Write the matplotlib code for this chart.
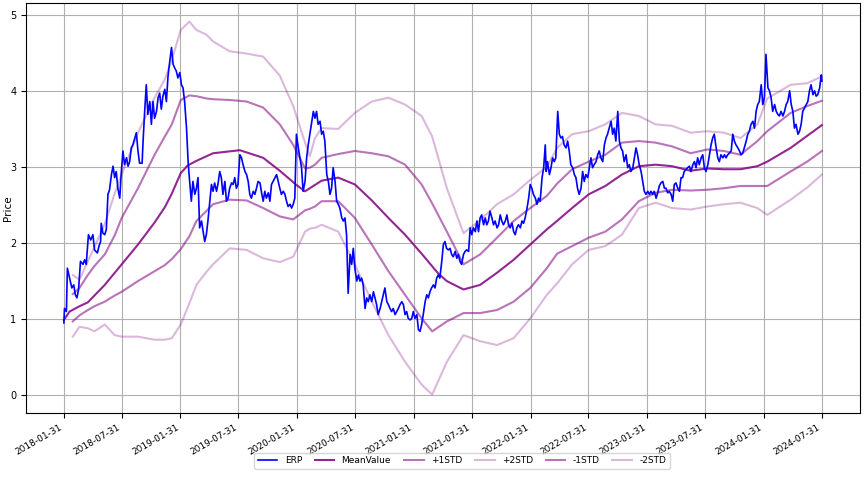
import numpy as np
import pandas as pd
import matplotlib
matplotlib.use("Agg")
import matplotlib.pyplot as plt

START = pd.Timestamp("2018-01-31")

# ---- ERP series (days since 2018-01-31, value) ----
erp_days = [0, 2, 8, 11, 18, 25, 31, 36, 41, 46, 52, 60, 65, 70, 77, 84, 91, 96, 105, 110,
            115, 117, 122, 128, 133, 138, 143, 149, 154, 159, 164, 169, 175, 180, 185, 190, 196, 201, 206, 211,
            216, 222, 227, 232, 237, 245, 248, 253, 258, 263, 269, 274, 279, 284, 290, 295, 300, 305, 310, 316,
            321, 326, 331, 337, 342, 347, 352, 357, 363, 368, 373, 378, 384, 389, 392, 399, 404, 410, 415, 420,
            425, 431, 436, 441, 446, 451, 457, 462, 467, 472, 478, 483, 488, 493, 498, 504, 509, 514, 519, 525,
            530, 535, 540, 545, 551, 556, 561, 567, 572, 577, 582, 587, 593, 598, 603, 608, 614, 619, 624, 629,
            634, 640, 645, 650, 655, 661, 666, 671, 676, 681, 687, 692, 697, 702, 708, 713, 718, 723, 728, 734,
            739, 744, 749, 755, 760, 765, 770, 776, 781, 786, 791, 796, 802, 807, 812, 817, 823, 828, 833, 838,
            843, 849, 854, 859, 864, 870, 875, 880, 885, 890, 896, 901, 906, 911, 917, 922, 927, 932, 937, 943,
            948, 953, 958, 964, 969, 974, 979, 984, 990, 995, 1000, 1005, 1011, 1016, 1021, 1026, 1031, 1037, 1042, 1047,
            1052, 1058, 1063, 1068, 1073, 1078, 1084, 1089, 1094, 1099, 1105, 1110, 1115, 1120, 1125, 1131, 1136, 1141, 1146, 1151,
            1157, 1162, 1167, 1172, 1177, 1183, 1188, 1193, 1198, 1204, 1209, 1214, 1219, 1225, 1230, 1235, 1240, 1245, 1251, 1256,
            1261, 1267, 1272, 1277, 1282, 1288, 1293, 1298, 1303, 1308, 1314, 1319, 1324, 1329, 1334, 1340, 1345, 1350, 1356, 1361,
            1366, 1371, 1376, 1382, 1387, 1392, 1397, 1403, 1408, 1413, 1418, 1423, 1429, 1434, 1439, 1444, 1450, 1455, 1460, 1465,
            1470, 1476, 1481, 1486, 1491, 1497, 1502, 1507, 1510, 1514, 1520, 1525, 1530, 1535, 1540, 1546, 1551, 1556, 1561, 1566,
            1572, 1577, 1582, 1587, 1593, 1598, 1603, 1608, 1613, 1619, 1624, 1629, 1634, 1640, 1645, 1650, 1655, 1660, 1666, 1671,
            1676, 1681, 1687, 1692, 1697, 1702, 1707, 1713, 1718, 1723, 1728, 1734, 1739, 1744, 1749, 1754, 1760, 1765, 1770, 1775,
            1781, 1786, 1791, 1796, 1801, 1807, 1812, 1817, 1822, 1828, 1833, 1838, 1843, 1848, 1854, 1859, 1864, 1869, 1875, 1880,
            1885, 1890, 1895, 1901, 1906, 1911, 1916, 1922, 1927, 1932, 1937, 1942, 1948, 1953, 1958, 1963, 1969, 1974, 1979, 1984,
            1989, 1995, 2000, 2005, 2010, 2016, 2021, 2026, 2031, 2036, 2042, 2047, 2052, 2057, 2063, 2068, 2073, 2078, 2083, 2089,
            2094, 2099, 2104, 2110, 2115, 2120, 2125, 2130, 2136, 2141, 2146, 2151, 2157, 2162, 2167, 2172, 2177, 2183, 2188, 2193,
            2198, 2204, 2209, 2214, 2219, 2225, 2230, 2235, 2240, 2245, 2251, 2256, 2261, 2266, 2272, 2277, 2282, 2287, 2292, 2298,
            2303, 2308, 2313, 2319, 2324, 2329, 2334, 2339, 2345, 2350, 2355, 2360, 2366, 2371, 2373]
erp_vals = [0.95, 1.14, 1.10, 1.67, 1.54, 1.41, 1.45, 1.32, 1.28, 1.39, 1.76, 1.72, 1.78, 1.72, 2.11, 2.04, 2.11, 1.91, 1.87, 1.96,
            2.02, 2.26, 2.13, 2.11, 2.18, 2.64, 2.70, 2.90, 3.01, 2.86, 2.94, 2.72, 2.59, 2.94, 3.21, 3.03, 3.12, 3.01, 3.07, 3.25,
            3.29, 3.38, 3.45, 3.21, 3.05, 3.05, 3.34, 3.73, 4.08, 3.69, 3.86, 3.56, 3.86, 3.64, 3.73, 3.91, 3.97, 3.76, 3.93, 4.02,
            3.86, 4.19, 4.37, 4.57, 4.35, 4.30, 4.26, 4.17, 4.24, 4.08, 4.04, 3.86, 3.51, 3.07, 2.90, 2.55, 2.81, 2.64, 2.72, 2.86,
            2.20, 2.29, 2.15, 2.02, 2.11, 2.29, 2.55, 2.77, 2.68, 2.79, 2.68, 2.79, 2.94, 2.86, 2.64, 2.81, 2.55, 2.59, 2.72, 2.79,
            2.77, 2.86, 2.72, 2.77, 3.16, 3.12, 3.03, 2.94, 2.90, 2.81, 2.64, 2.59, 2.68, 2.64, 2.72, 2.81, 2.79, 2.66, 2.55, 2.68,
            2.59, 2.66, 2.55, 2.77, 2.81, 2.86, 2.90, 2.81, 2.72, 2.64, 2.68, 2.64, 2.55, 2.48, 2.51, 2.46, 2.51, 2.59, 3.43, 3.25,
            3.12, 2.99, 2.68, 2.81, 3.12, 3.29, 3.43, 3.60, 3.73, 3.64, 3.73, 3.56, 3.60, 3.43, 3.47, 3.34, 2.90, 2.81, 2.64, 2.72,
            2.99, 2.81, 2.55, 2.51, 2.46, 2.33, 2.29, 2.33, 2.11, 1.34, 1.85, 1.72, 1.93, 1.67, 1.50, 1.58, 1.50, 1.54, 1.45, 1.14,
            1.28, 1.23, 1.32, 1.23, 1.36, 1.28, 1.19, 1.06, 1.14, 1.23, 1.32, 1.41, 1.23, 1.19, 1.14, 1.10, 1.14, 1.06, 1.10, 1.14,
            1.19, 1.23, 1.19, 1.06, 1.10, 1.01, 0.99, 1.01, 1.10, 1.01, 1.06, 0.86, 0.84, 0.93, 1.06, 1.23, 1.32, 1.28, 1.36, 1.41,
            1.45, 1.41, 1.54, 1.58, 1.54, 1.76, 1.98, 2.02, 1.93, 1.91, 1.93, 1.85, 1.82, 1.89, 1.80, 1.85, 1.76, 1.72, 1.85, 1.89,
            1.91, 1.89, 2.20, 2.11, 2.20, 2.15, 2.29, 2.15, 2.33, 2.37, 2.24, 2.33, 2.24, 2.29, 2.42, 2.33, 2.24, 2.29, 2.20, 2.24,
            2.37, 2.29, 2.24, 2.29, 2.37, 2.24, 2.20, 2.26, 2.15, 2.11, 2.20, 2.24, 2.20, 2.29, 2.26, 2.33, 2.46, 2.59, 2.77, 2.72,
            2.64, 2.59, 2.51, 2.59, 2.55, 2.86, 2.99, 3.29, 2.94, 3.07, 2.90, 2.99, 3.12, 3.07, 3.12, 3.73, 3.43, 3.38, 3.40, 3.29,
            3.25, 3.34, 3.21, 3.03, 2.99, 2.90, 2.86, 2.72, 2.64, 2.72, 2.94, 2.81, 2.90, 2.86, 2.99, 3.12, 2.99, 3.03, 3.07, 3.16,
            3.21, 3.12, 3.07, 3.29, 3.38, 3.43, 3.51, 3.60, 3.43, 3.51, 3.34, 3.73, 3.34, 3.25, 3.21, 3.07, 3.16, 2.99, 3.03, 2.94,
            2.99, 3.12, 3.25, 3.16, 3.03, 2.94, 2.81, 2.68, 2.64, 2.68, 2.64, 2.68, 2.64, 2.68, 2.59, 2.66, 2.75, 2.79, 2.81, 2.72,
            2.72, 2.66, 2.68, 2.64, 2.55, 2.77, 2.79, 2.72, 2.68, 2.86, 2.86, 2.94, 2.97, 2.99, 3.01, 2.94, 3.03, 3.07, 2.99, 3.12,
            3.03, 3.12, 3.16, 2.99, 2.94, 3.03, 3.16, 3.29, 3.38, 3.43, 3.25, 3.12, 3.07, 3.16, 3.12, 3.16, 3.12, 3.16, 3.18, 3.21,
            3.43, 3.34, 3.29, 3.25, 3.21, 3.16, 3.18, 3.25, 3.34, 3.43, 3.47, 3.56, 3.60, 3.51, 3.73, 3.82, 3.86, 4.08, 3.82, 3.91,
            4.48, 4.04, 4.00, 3.91, 3.73, 3.82, 3.73, 3.69, 3.67, 3.73, 3.67, 3.73, 3.82, 3.86, 4.00, 3.82, 3.73, 3.51, 3.56, 3.43,
            3.47, 3.56, 3.73, 3.78, 3.82, 3.86, 4.00, 4.08, 3.95, 4.00, 3.93, 3.95, 4.04, 4.21, 4.13]

# ---- MeanValue ----
mean_days = [0, 18, 49, 75, 128, 181, 232, 284, 316, 338, 366, 388, 415, 467, 551, 624, 676, 729, 755, 807,
             859, 911, 964, 1016, 1068, 1120, 1172, 1199, 1251, 1303, 1356, 1408, 1460, 1512, 1538, 1591, 1643, 1695, 1747, 1800,
             1852, 1904, 1962, 2014, 2066, 2118, 2171, 2202, 2275, 2373]
mean_vals = [0.99, 1.10, 1.17, 1.22, 1.45, 1.72, 1.98, 2.27, 2.47, 2.65, 2.92, 3.02, 3.08, 3.18, 3.22, 3.12, 2.95, 2.76, 2.68, 2.82,
             2.86, 2.77, 2.56, 2.33, 2.11, 1.86, 1.60, 1.50, 1.39, 1.45, 1.61, 1.78, 1.98, 2.18, 2.27, 2.46, 2.64, 2.75, 2.90, 3.01,
             3.03, 3.01, 2.95, 2.98, 2.97, 2.97, 3.01, 3.07, 3.25, 3.55]

# ---- STD bands (shared day grid) ----
band_days = [28, 49, 75, 96, 128, 159, 181, 232, 284, 316, 338, 366, 393, 415, 446, 467, 519, 572, 624, 676,
             718, 755, 770, 786, 807, 859, 911, 964, 1016, 1068, 1120, 1153, 1199, 1251, 1303, 1356, 1408, 1460, 1512, 1544,
             1591, 1643, 1695, 1747, 1800, 1852, 1904, 1962, 2014, 2066, 2118, 2171, 2202, 2275, 2327, 2373]
plus1_vals = [1.33, 1.41, 1.58, 1.70, 1.85, 2.10, 2.33, 2.72, 3.16, 3.40, 3.56, 3.88, 3.94, 3.93, 3.90, 3.89, 3.88, 3.86, 3.78, 3.56,
              3.29, 2.98, 2.99, 3.03, 3.12, 3.17, 3.21, 3.18, 3.14, 3.03, 2.77, 2.52, 2.15, 1.72, 1.85, 2.07, 2.29, 2.46, 2.62, 2.78,
              2.97, 3.07, 3.16, 3.32, 3.34, 3.32, 3.27, 3.18, 3.23, 3.21, 3.16, 3.34, 3.47, 3.71, 3.80, 3.87]
plus2_vals = [1.58, 1.52, 1.76, 1.95, 2.25, 2.65, 2.90, 3.45, 3.91, 4.15, 4.41, 4.80, 4.91, 4.80, 4.74, 4.65, 4.52, 4.49, 4.45, 4.20,
              3.80, 3.32, 3.14, 3.38, 3.51, 3.50, 3.71, 3.86, 3.91, 3.82, 3.67, 3.40, 2.72, 2.13, 2.30, 2.51, 2.64, 2.83, 3.00, 3.25,
              3.43, 3.47, 3.56, 3.71, 3.67, 3.56, 3.54, 3.45, 3.47, 3.45, 3.38, 3.56, 3.90, 4.08, 4.10, 4.19]
minus1_vals = [0.97, 1.05, 1.12, 1.17, 1.23, 1.31, 1.36, 1.50, 1.63, 1.71, 1.79, 1.92, 2.09, 2.29, 2.42, 2.51, 2.57, 2.56, 2.46, 2.35,
               2.31, 2.43, 2.45, 2.48, 2.55, 2.55, 2.33, 1.98, 1.63, 1.32, 1.01, 0.84, 0.97, 1.08, 1.08, 1.12, 1.23, 1.41, 1.67, 1.86,
               1.96, 2.07, 2.15, 2.31, 2.55, 2.66, 2.70, 2.69, 2.70, 2.72, 2.75, 2.75, 2.75, 2.94, 3.07, 3.21]
minus2_vals = [0.77, 0.90, 0.88, 0.84, 0.93, 0.79, 0.77, 0.77, 0.73, 0.73, 0.75, 0.93, 1.21, 1.45, 1.62, 1.72, 1.93, 1.91, 1.80, 1.75,
               1.82, 2.15, 2.19, 2.20, 2.24, 2.15, 1.72, 1.23, 0.79, 0.44, 0.14, 0.01, 0.44, 0.79, 0.71, 0.66, 0.75, 1.01, 1.32, 1.47,
               1.72, 1.91, 1.96, 2.11, 2.46, 2.53, 2.46, 2.44, 2.48, 2.51, 2.53, 2.46, 2.37, 2.57, 2.73, 2.90]

tick_labels = ["2018-01-31", "2018-07-31", "2019-01-31", "2019-07-31", "2020-01-31", "2020-07-31",
               "2021-01-31", "2021-07-31", "2022-01-31", "2022-07-31", "2023-01-31", "2023-07-31",
               "2024-01-31", "2024-07-31"]


def to_dates(days):
    return START + pd.to_timedelta(np.array(days), unit="D")


plt.rcParams['font.family'] = ['DejaVu Sans']
fig = plt.figure(figsize=(8.65, 4.93), dpi=100)
ax = fig.add_axes([0.030, 0.162, 0.964, 0.832])

ax.plot(to_dates(erp_days), erp_vals, color='blue', lw=1.2, label='ERP', zorder=5)
ax.plot(to_dates(mean_days), mean_vals, color='purple', lw=1.5, alpha=0.85, label='MeanValue', zorder=4)
ax.plot(to_dates(band_days), plus1_vals, color='purple', lw=1.5, alpha=0.55, label='+1STD', zorder=3)
ax.plot(to_dates(band_days), plus2_vals, color='purple', lw=1.5, alpha=0.28, label='+2STD', zorder=3)
ax.plot(to_dates(band_days), minus1_vals, color='purple', lw=1.5, alpha=0.55, label='-1STD', zorder=3)
ax.plot(to_dates(band_days), minus2_vals, color='purple', lw=1.5, alpha=0.28, label='-2STD', zorder=3)

ticks = pd.to_datetime(tick_labels)
ax.set_xticks(ticks)
ax.set_xticklabels(tick_labels, rotation=30, ha='right', fontsize=6.5)
ax.tick_params(axis='y', labelsize=7)
ax.set_ylabel('Price', fontsize=7.5)
ax.yaxis.set_label_coords(-0.016, 0.5)
ax.grid(True, color='#b0b0b0', lw=0.8)
ax.margins(x=0.05, y=0.05)

fig.legend(loc='center', bbox_to_anchor=(0.534, 0.065), ncol=6, fontsize=6.5, frameon=True,
           columnspacing=1.4, handlelength=2.2)

fig.savefig('out.png', dpi=100)
